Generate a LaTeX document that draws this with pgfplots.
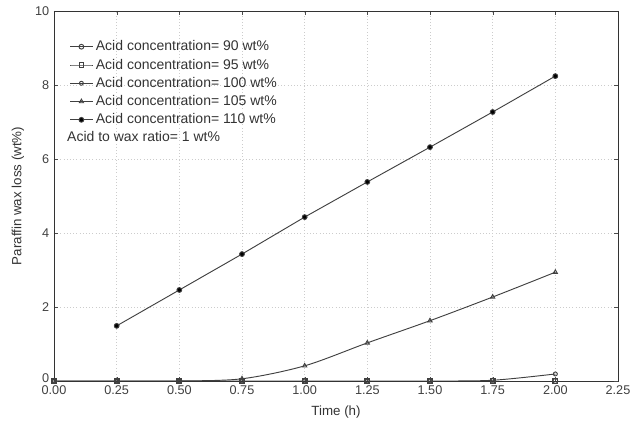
\documentclass[border=0pt]{standalone}
\usepackage{pgfplots}
\pgfplotsset{compat=1.18}
\usepackage{fontspec}
\setmainfont{Liberation Sans}
\setsansfont{Liberation Sans}

\begin{document}
\begin{tikzpicture}
\begin{axis}[
  name=ax,
  scale only axis,
  width=423pt, height=277.5pt,
  xmin=0, xmax=2.25, ymin=0, ymax=10,
  xtick={0,0.25,...,2.25},
  ytick={2,4,6,8,10},
  extra y ticks={0},
  extra y tick style={yticklabel style={yshift=2.5pt}, grid=none},
  xticklabel style={/pgf/number format/fixed, /pgf/number format/fixed zerofill,
    /pgf/number format/precision=2},
  /pgf/number format/assume math mode=true,
  ticklabel style={font=\fontsize{9.5}{11}\selectfont, text=black!75},
  label style={font=\fontsize{10}{12}\selectfont, text=black!80},
  xlabel={Time (h)},
  ylabel={Paraffin wax loss (wt\%)},
  xlabel style={at={(axis description cs:0.5,-0.085)}, anchor=center},
  ylabel style={at={(axis description cs:-0.064,0.5)}, anchor=center},
  tick align=inside,
  major tick length=3pt,
  grid=major,
  grid style={dotted, black!20},
  axis line style={black!80},
  tick style={black!70},
  legend cell align=left,
  legend style={draw=none, fill=none, at={(0.02,0.935)}, anchor=north west,
    font=\fontsize{10.5}{11}\selectfont, text=black!80, row sep=0.6pt},
  every axis plot/.append style={black!75, line width=0.7pt, mark size=1.8pt,
    mark options={fill=white, solid}},
]
% 90 wt%
\addplot[smooth, mark=o] coordinates {
  (0,0) (0.25,0) (0.5,0) (0.75,0) (1.0,0) (1.25,0) (1.5,0) (1.75,0) (2.0,0)};
\addlegendentry{Acid concentration= 90 wt\%}
% 95 wt%
\addplot[smooth, mark=square] coordinates {
  (0,0) (0.25,0) (0.5,0) (0.75,0) (1.0,0) (1.25,0) (1.5,0) (1.75,0) (2.0,0)};
\addlegendentry{Acid concentration= 95 wt\%}
% 100 wt%
\addplot[smooth, mark=o, mark size=1.5pt] coordinates {
  (0,0) (0.25,0) (0.5,0) (0.75,0) (1.0,0) (1.25,0) (1.5,0) (1.75,0.02) (2.0,0.19)};
\addlegendentry{Acid concentration= 100 wt\%}
% 105 wt%
\addplot[smooth, mark=triangle] coordinates {
  (0,0) (0.25,0) (0.5,0) (0.75,0.06) (1.0,0.41) (1.25,1.03) (1.5,1.63) (1.75,2.27) (2.0,2.94)};
\addlegendentry{Acid concentration= 105 wt\%}
% 110 wt%
\addplot[mark=*, mark options={fill=black}] coordinates {
  (0.25,1.49) (0.5,2.46) (0.75,3.43) (1.0,4.43) (1.25,5.38) (1.5,6.32) (1.75,7.27) (2.0,8.24)};
\addlegendentry{Acid concentration= 110 wt\%}
\node[anchor=west, font=\fontsize{10.5}{11}\selectfont, text=black!80]
  at (rel axis cs:0.015,0.66) {Acid to wax ratio= 1 wt\%};
\end{axis}
% page margins around the plot area
\pgfresetboundingbox
\path[use as bounding box] ([shift={(-40.5pt,-40.5pt)}]ax.south west)
  rectangle ([shift={(9.75pt,8.25pt)}]ax.north east);
\end{tikzpicture}
\end{document}
